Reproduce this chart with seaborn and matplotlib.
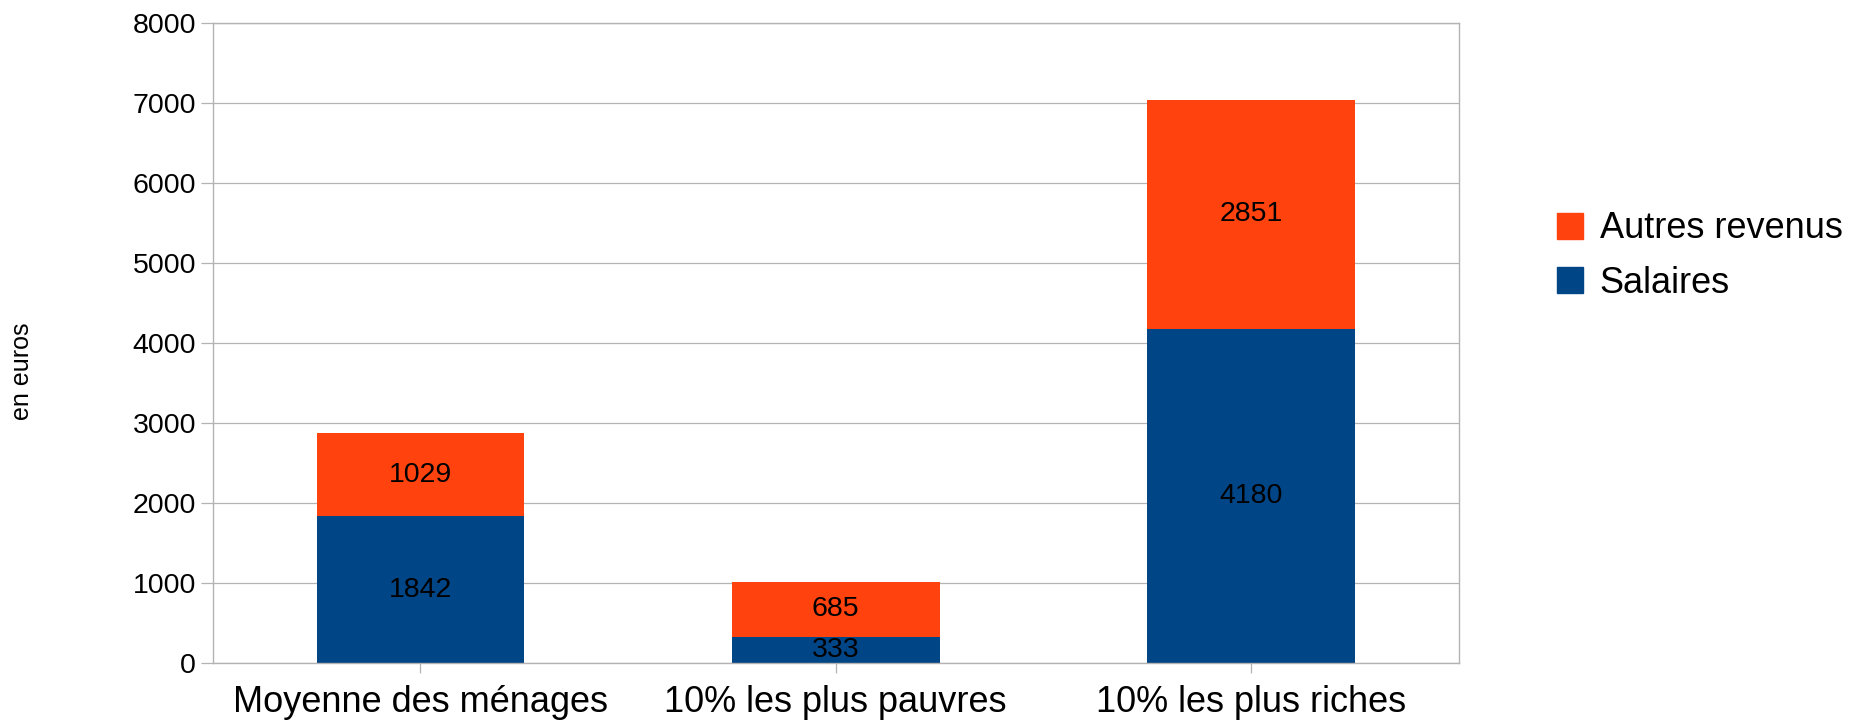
# Revenus des menages - barres empilees

# Import Libraries
import pandas as pd
import matplotlib
matplotlib.use("Agg")
import matplotlib.pyplot as plt
import matplotlib.patches as mpatches
import seaborn as sns


# Data
categories = ["Moyenne des ménages", "10% les plus pauvres", "10% les plus riches"]
salaires = [1842, 333, 4180]
autres_revenus = [1029, 685, 2851]
y_ticks = [0, 1000, 2000, 3000, 4000, 5000, 6000, 7000, 8000]

data = pd.DataFrame({
    "categorie": categories,
    "Salaires": salaires,
    "Autres revenus": autres_revenus,
})
data["total"] = data["Salaires"] + data["Autres revenus"]


# Style
sns.set_style("white")
plt.rcParams["font.family"] = ["Liberation Sans", "DejaVu Sans"]
plt.rcParams["text.color"] = "black"
plt.rcParams["xtick.labelcolor"] = "black"
plt.rcParams["ytick.labelcolor"] = "black"

blue = "#004586"
orange = "#ff420e"
grid_color = "#b3b3b3"


# Figure
fig = plt.figure(figsize=(18.64, 7.21), dpi=100)
ax = fig.add_axes([0.1142, 0.080, 0.6683, 0.8887])

# total bar first (orange), then salaires on top of it (blue)
sns.barplot(data=data, x="categorie", y="total", color=orange,
            width=0.5, saturation=1, ax=ax, linewidth=0)
sns.barplot(data=data, x="categorie", y="Salaires", color=blue,
            width=0.5, saturation=1, ax=ax, linewidth=0)

# value labels in the middle of each segment
for i, row in data.iterrows():
    ax.text(i, row["Salaires"] / 2, str(row["Salaires"]),
            ha="center", va="center", fontsize=20.5, color="black")
    ax.text(i, row["Salaires"] + row["Autres revenus"] / 2, str(row["Autres revenus"]),
            ha="center", va="center", fontsize=20.5, color="black")


# Axes
ax.set_ylim(0, 8000)
ax.set_xlim(-0.5, 2.5)
ax.set_yticks(y_ticks)
ax.set_xlabel("")
ax.set_ylabel("")
ax.yaxis.grid(True, color=grid_color, linewidth=0.9)
ax.set_axisbelow(True)

for spine in ax.spines.values():
    spine.set_color(grid_color)
    spine.set_linewidth(1.0)

ax.tick_params(axis="y", labelsize=20.5, length=9, width=0.9, color=grid_color,
               labelcolor="black", pad=3, direction="out", left=True)
ax.tick_params(axis="x", labelsize=26, length=7.5, width=0.9, color=grid_color,
               labelcolor="black", pad=8, direction="out", bottom=True)

fig.text(22 / 1864, 1 - 371 / 721, "en euros", rotation=90,
         ha="center", va="center", fontsize=18,
         family=["Liberation Sans Narrow", "Liberation Sans", "DejaVu Sans"])


# Legend
handles = [
    mpatches.Patch(color=orange, label="Autres revenus"),
    mpatches.Patch(color=blue, label="Salaires"),
]
fig.legend(handles=handles, loc="upper left",
           bbox_to_anchor=(1543 / 1864, 1 - 197 / 721),
           frameon=False, fontsize=26,
           handlelength=0.72, handleheight=0.72,
           handletextpad=0.45, labelspacing=0.53, borderaxespad=0)


plt.savefig("out.png", dpi=100)
